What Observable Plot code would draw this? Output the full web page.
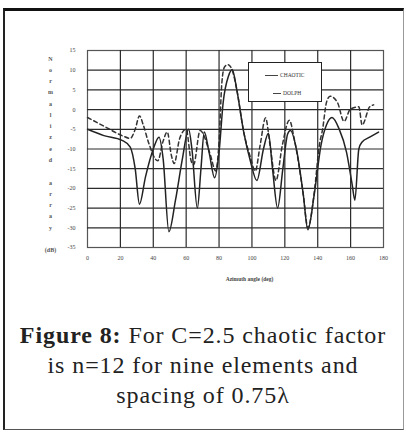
<!DOCTYPE html>
<html>
<head>
<meta charset="utf-8">
<script src="https://cdn.jsdelivr.net/npm/d3@7"></script>
<script src="https://cdn.jsdelivr.net/npm/@observablehq/plot@0.6"></script>
<style>
  html, body { margin: 0; padding: 0; background: #fff; }
  #page { position: relative; width: 406px; height: 432px; overflow: hidden; background: #fff; }
  #frame { position: absolute; left: 3px; top: 8px; width: 398px; height: 418px;
           border-left: 2px solid #222; border-top: 3px solid #111; border-bottom: 1px solid #555; border-right: 1px solid #999; }
  #chart { position: absolute; left: 0; top: 0; }
  #legend { position: absolute; left: 248px; top: 62px; width: 72px; height: 38px; border: 1.5px solid #222; background: #fff;
            font-family: "Liberation Serif", "Times New Roman", serif; font-size: 5.5px; color: #333; }
  .row { position: absolute; display: flex; align-items: center; }
  .sw { display: inline-block; height: 0; margin-right: 2px; }
  #caption { position: absolute; left: 0; top: 320px; width: 406px; text-align: center;
             font-family: "Liberation Serif", "Times New Roman", "DejaVu Serif", serif; font-size: 24px; letter-spacing: 0.9px;
             line-height: 30px; color: #222; }
</style>
</head>
<body>
<div id="page">
  <div id="frame"></div>
  <div id="chart"></div>
  <div id="legend">
    <div class="row" style="left:16px; top:9px;"><span class="sw" style="width:13px; border-top:1px solid #444;"></span><span id="lab0"></span></div>
    <div class="row" style="left:24px; top:27px;"><span class="sw" style="width:8px; border-top:1px solid #444;"></span><span id="lab1"></span></div>
  </div>
  <div id="caption"><b>Figure 8:</b> For C=2.5 chaotic factor<br>is n=12 for nine elements and<br>spacing of 0.75λ</div>
</div>
<script>
// Series names
const seriesNames = ["CHAOTIC", "DOLPH"];

// Solid curve (chaotic): azimuth angle (deg) and normalized array factor (dB)
const chaoticAngle = [0, 10, 21, 26, 29, 31.6, 35.3, 40, 43.5, 46, 49.5, 53.5, 57.7, 61.5, 63.5, 66.8, 69, 71, 74, 77.3,
  80, 82.5, 85.8, 88, 90.8, 95, 99, 103, 107, 110, 112.5, 115.6, 118.8, 121.7, 123.4, 127.4, 131.2, 134, 137.9,
  142, 145.3, 148.7, 153, 157.5, 160.9, 162.6, 165, 167, 171.6, 177];
const chaoticDb = [-5, -6.6, -7.8, -9.5, -15, -24, -17, -10, -7, -12.5, -31, -23, -12.5, -5, -10, -25, -15, -5.7, -11, -17.3,
  -10.8, 1.8, 8.6, 10.2, 5, -5.7, -13, -18, -10, -6, -15, -25, -15, -6.2, -5.3, -10.8, -21.5, -30.5, -21.5,
  -9, -3.9, -2, -4.9, -10.8, -18.9, -23, -10, -8.2, -7, -5.7];

// Dashed curve
const dolphAngle = [0, 10.4, 21, 26, 29, 31.6, 34, 37, 42.7, 46, 48.5, 51, 52.7, 56, 60, 63, 64.5, 68.5, 74.8, 77.9,
  80, 81.7, 83.3, 85.4, 88, 90.8, 95, 99, 102, 105, 108.3, 111, 114.6, 118.5, 122.7, 126, 131.2, 134, 137.9,
  141, 143, 145.3, 147.5, 152, 156, 159.8, 165, 167, 171.6, 174];
const dolphDb = [-2, -4.3, -6.6, -7.3, -5, -1.6, -4, -8.2, -13, -8, -5.7, -11.6, -13.7, -7.4, -5, -13, -14, -5.3, -11.6, -15.6,
  -8.2, 6.8, 10.8, 11.4, 10, 5, -5.7, -12, -15.6, -9, -2.1, -9, -18, -9, -2.7, -8, -21.5, -30, -21,
  -9, -4.9, 1.8, 3.4, 1.8, -3, 0.1, 0.7, -3.9, 0.7, 1.2];

// Axis ticks and labels
const xTicks = [0, 20, 40, 60, 80, 100, 120, 140, 160, 180];
const yTicks = [15, 10, 5, 0, -5, -10, -15, -20, -25, -30, -35];
const xLabel = "Azimuth angle (deg)";
const yLabelWords = ["Normalized", "array", "(dB)"];

const chaotic = chaoticAngle.map((a, i) => ({angle: a, db: chaoticDb[i]}));
const dolph = dolphAngle.map((a, i) => ({angle: a, db: dolphDb[i]}));

const xMin = xTicks[0], xMax = xTicks[xTicks.length - 1];
const yMin = yTicks[yTicks.length - 1], yMax = yTicks[0];

const yLabelText = [yLabelWords[0].split("").join("\n"), yLabelWords[1].split("").join("\n"), yLabelWords[2]].join("\n\n");

const font = "Liberation Serif, Times New Roman, serif";

const chart = Plot.plot({
  width: 406,
  height: 300,
  marginTop: 50,
  marginBottom: 53,
  marginLeft: 87,
  marginRight: 23,
  style: {background: "transparent", fontFamily: font},
  x: {domain: [xMin, xMax], label: null},
  y: {domain: [yMin, yMax], label: null},
  marks: [
    Plot.frame({stroke: "#555", strokeWidth: 1.2}),
    Plot.axisX(xTicks, {tickSize: 0, tickPadding: 8, fontSize: 6, fill: "#444", label: null, tickFormat: d => String(d)}),
    Plot.axisY(yTicks, {tickSize: 0, tickPadding: 12, fontSize: 6, fill: "#444", label: null, tickFormat: d => String(d)}),
    Plot.line(dolph, {x: "angle", y: "db", stroke: "#333", strokeWidth: 1.5, strokeDasharray: "4,3", curve: "monotone-x"}),
    Plot.line(chaotic, {x: "angle", y: "db", stroke: "#222", strokeWidth: 1.5, curve: "monotone-x"}),
    Plot.ruleX(xTicks.slice(1, -1), {x: d => d, y1: yMin, y2: yMax, stroke: "#2b2b2b", strokeWidth: 1.2}),
    Plot.ruleY(yTicks.slice(1, -1), {y: d => d, x1: xMin, x2: xMax, stroke: "#2b2b2b", strokeWidth: 1.2}),
    Plot.text([xLabel], {text: d => d, frameAnchor: "bottom", dy: 33, dx: 14, fontSize: 5.5, fill: "#444", fontWeight: "bold"}),
    Plot.text([yLabelText], {text: d => d, frameAnchor: "top-left", dx: -37, dy: 2, lineAnchor: "top", lineHeight: 1.88,
      fontSize: 6, fill: "#555", fontWeight: "bold", textAnchor: "middle"})
  ]
});
document.getElementById("chart").appendChild(chart);
document.getElementById("lab0").textContent = seriesNames[0];
document.getElementById("lab1").textContent = seriesNames[1];
</script>
</body>
</html>
